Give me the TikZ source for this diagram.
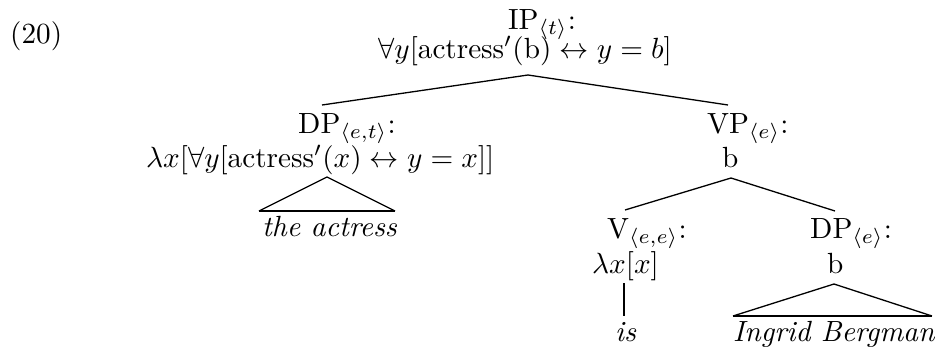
\documentclass[tikz,border=0pt]{standalone}
\usepackage{graphicx}
\newcommand{\bigtxt}[1]{\scalebox{2.92}{\fontsize{10}{12}\selectfont #1}}
\tikzset{
  lbl/.style={inner sep=0pt, anchor=base west},
  branch/.style={line width=1.3pt},
  tribase/.style={line width=2.6pt},
  stem/.style={line width=1.9pt}
}
\begin{document}
\begin{tikzpicture}[x=1pt,y=-1pt]
\useasboundingbox (0,0) rectangle (935,354);
% labels
\node[lbl] (ex) at (10,43) {\bigtxt{(20)}};
\node[lbl] (ip) at (508,29) {\bigtxt{IP$_{\langle t\rangle}$:}};
\node[lbl] (ipf) at (378,58) {\bigtxt{$\forall y[\mbox{actress}'(\mbox{b}) \leftrightarrow y = b]$}};
\node[lbl] (dp) at (298,133) {\bigtxt{DP$_{\langle e,t\rangle}$:}};
\node[lbl] (dpf) at (146,167) {\bigtxt{$\lambda x[\forall y[\mbox{actress}'(x) \leftrightarrow y = x]]$}};
\node[lbl] (vp) at (707,133) {\bigtxt{VP$_{\langle e\rangle}$:}};
\node[lbl] (vpf) at (722,167) {\bigtxt{b}};
\node[lbl] (v) at (607,238) {\bigtxt{V$_{\langle e,e\rangle}$:}};
\node[lbl] (vf) at (592,273) {\bigtxt{$\lambda x[x]$}};
\node[lbl] (dpe) at (810,238) {\bigtxt{DP$_{\langle e\rangle}$:}};
\node[lbl] (dpef) at (827,273) {\bigtxt{b}};
\node[lbl] (the) at (262,236) {\bigtxt{\itshape the actress}};
\node[lbl] (is) at (615,341) {\bigtxt{\itshape is}};
\node[lbl] (ib) at (733,341) {\bigtxt{\itshape Ingrid Bergman}};
% connector ends
\coordinate (ip-s) at (528,75);
\coordinate (dp-n) at (322,105);
\coordinate (vp-n) at (728,105);
\coordinate (dp-s) at (327,177);
\coordinate (the-l) at (259,211);
\coordinate (the-r) at (395,211);
\coordinate (vp-s) at (731,178);
\coordinate (v-n) at (625,210);
\coordinate (dpe-n) at (835,211);
\coordinate (vf-s) at (624,283);
\coordinate (is-n) at (624,316);
\coordinate (dpe-s) at (834,284);
\coordinate (ib-l) at (733,316);
\coordinate (ib-r) at (932,316);
% connectors
\draw[branch] (dp-n) -- (ip-s) -- (vp-n);
\draw[branch] (the-l) -- (dp-s) -- (the-r);
\draw[tribase] (the-l) -- (the-r);
\draw[branch] (v-n) -- (vp-s) -- (dpe-n);
\draw[stem] (vf-s) -- (is-n);
\draw[branch] (ib-l) -- (dpe-s) -- (ib-r);
\draw[stem] (ib-l) -- (ib-r);
\end{tikzpicture}
\end{document}
